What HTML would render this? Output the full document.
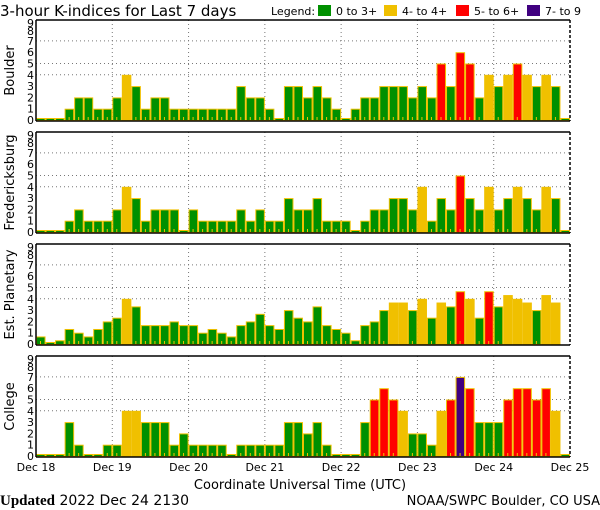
<!DOCTYPE html>
<html><head><meta charset="utf-8"><style>
html,body{margin:0;padding:0;background:#fff;width:600px;height:510px;overflow:hidden}
svg text{font-family:"DejaVu Sans","Liberation Sans",sans-serif}
</style></head><body>
<svg id="chart" width="600" height="510" xmlns="http://www.w3.org/2000/svg">
<text x="0" y="16" font-size="15" fill="#000">3-hour K-indices for Last 7 days</text>
<g font-size="11">
<text x="271" y="15">Legend:</text>
<rect x="318" y="5" width="13" height="11" fill="#009000"/><text x="336" y="15">0 to 3+</text>
<rect x="384" y="5" width="13" height="11" fill="#f0c000"/><text x="402" y="15">4- to 4+</text>
<rect x="456" y="5" width="13" height="11" fill="#ff0000"/><text x="474" y="15">5- to 6+</text>
<rect x="527" y="5" width="13" height="11" fill="#400080"/><text x="545" y="15">7- to 9</text>
</g>
<g id="panels"></g>
<g font-size="11" text-anchor="middle" id="xaxis"></g>
<text x="300" y="489" font-size="13" text-anchor="middle">Coordinate Universal Time (UTC)</text>
<text x="0" y="505" font-size="14"><tspan font-weight="bold" style="font-family:'Liberation Serif',serif" font-size="15">Updated</tspan><tspan font-size="14" style="font-family:'DejaVu Sans',sans-serif"> 2022 Dec 24 2130</tspan></text>
<text x="600" y="505" font-size="13" text-anchor="end">NOAA/SWPC Boulder, CO USA</text>
</svg>
<script>
const dayLabels = ["Dec 18","Dec 19","Dec 20","Dec 21","Dec 22","Dec 23","Dec 24","Dec 25"];
const stationNames = ["Boulder","Fredericksburg","Est. Planetary","College"];
const boulder = [0,0,0,1,2,2,1,1, 2,4,3,1,2,2,1,1, 1,1,1,1,1,3,2,2, 1,0,3,3,2,3,2,1, 0,1,2,2,3,3,3,2, 3,2,5,3,6,5,2,4, 3,4,5,4,3,4,3,0];
const fredericksburg = [0,0,0,1,2,1,1,1, 2,4,3,1,2,2,2,0, 2,1,1,1,1,2,1,2, 1,1,3,2,2,3,1,1, 1,0,1,2,2,3,3,2, 4,1,3,2,5,3,2,4, 2,3,4,3,2,4,3,0];
const planetary = [0.67,0.15,0.33,1.33,1,0.67,1.33,2, 2.33,4,3.33,1.67,1.67,1.67,2,1.67, 1.67,1,1.33,1,0.67,1.67,2,2.67, 1.67,1.33,3,2.33,2,3.33,1.67,1.33, 1,0.33,1.67,2,3,3.67,3.67,3, 4,2.33,3.67,3.33,4.67,4,2.33,4.67, 3.33,4.33,4,3.67,3,4.33,3.67,null];
const college = [0,0,0,3,1,0,0,1, 1,4,4,3,3,3,1,2, 1,1,1,1,0,1,1,1, 1,1,3,3,2,3,1,0, 0,0,3,5,6,5,4,2, 2,1,4,5,7,6,3,3, 3,5,6,6,5,6,4,0];
const series = [boulder, fredericksburg, planetary, college];

const NS="http://www.w3.org/2000/svg";
const X0=36, X1=570, NB=56, U=11.3;
const tops=[20,132,244,356], H=101;
function xs(i){return X0+(X1-X0)*i/NB;}
function mk(t,a,p){const e=document.createElementNS(NS,t);for(const k in a)e.setAttribute(k,a[k]);p.appendChild(e);return e;}
function col(k){return k<3.5?"#009000":k<4.5?"#f0c000":k<6.5?"#ff0000":"#400080";}
const P=document.getElementById("panels");
series.forEach((vals,pi)=>{
  const top=tops[pi], bot=top+H, base=bot-1;
  const ys=k=>base-k*U;
  const g=mk("g",{},P);
  
  
  mk("rect",{x:X0,y:top,width:X1-X0,height:H,fill:"#fff",stroke:"none"},g);
  [4,5,7].forEach(k=>{const l=mk("line",{x1:X0,x2:X1,y1:ys(k),y2:ys(k),stroke:"#777","stroke-dasharray":"1,3"},g);
    });
  for(let d=1;d<7;d++){const x=xs(d*8);const l=mk("line",{x1:x,x2:x,y1:top,y2:bot,stroke:"#777","stroke-dasharray":"1,3"},g);
    }
  vals.forEach((k,i)=>{
    if(k===null)return;
    const h=Math.max(k*U,2);
    const r=mk("rect",{x:xs(i)+0.5,y:base-h+0.5,width:xs(i+1)-xs(i)-1,height:h,fill:col(k),stroke:"#f0c000","stroke-width":1},g);
    
    
    if(k>0.5) mk("rect",{x:xs(i)+4,y:base-3,width:1,height:3,fill:"#f0c000"},g);
  });
  mk("line",{x1:X0,x2:X1,y1:top,y2:top,stroke:"#000","stroke-width":1.5},g);
  mk("line",{x1:X0,x2:X1,y1:bot,y2:bot,stroke:"#000","stroke-width":1.5},g);
  mk("line",{x1:X0,x2:X0,y1:top,y2:bot,stroke:"#000","stroke-width":1.5},g);
  mk("line",{x1:X1,x2:X1,y1:top,y2:bot,stroke:"#000","stroke-width":1.5,"stroke-dasharray":"3,2"},g);
  for(let k=0;k<=9;k++){
    let y=ys(k)+4; if(k===9)y=top+7; if(k===8)y=top+15;
    const t=mk("text",{x:34,y:y,"font-size":11,"text-anchor":"end"},g);t.textContent=k;
    
  }
  const cy=top+H/2;
  const t=mk("text",{x:14,y:cy,"font-size":13,"text-anchor":"middle",transform:`rotate(-90 14 ${cy})`},g);
  t.textContent=stationNames[pi];
  
});
const XA=document.getElementById("xaxis");
dayLabels.forEach((s,d)=>{const t=mk("text",{x:xs(d*8),y:471},XA);t.textContent=s;
  });
</script>
</body></html>
